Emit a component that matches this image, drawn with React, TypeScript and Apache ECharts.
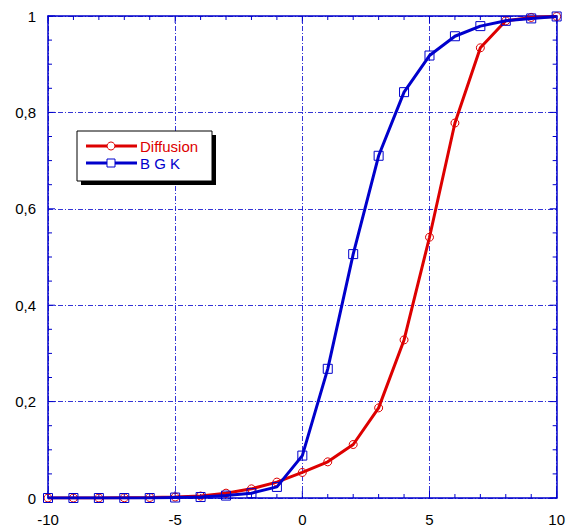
import React, { useEffect, useRef } from "react";
import * as echarts from "echarts";

const xValues = [-10, -9, -8, -7, -6, -5, -4, -3, -2, -1, 0, 1, 2, 3, 4, 5, 6, 7, 8, 9, 10];
const diffusion = [0, 0, 0, 0.0005, 0.001, 0.002, 0.004, 0.01, 0.019, 0.033, 0.053, 0.075, 0.111, 0.187, 0.328, 0.541, 0.778, 0.934, 0.99, 0.997, 0.999];
const bgk = [0, 0, 0, 0, 0, 0.001, 0.002, 0.005, 0.01, 0.023, 0.088, 0.268, 0.506, 0.71, 0.842, 0.918, 0.958, 0.979, 0.99, 0.995, 0.999];
const seriesNames = ["Diffusion", "BGK"];
const xTickValues = [-10, -9, -8, -7, -6, -5, -4, -3, -2, -1, 0, 1, 2, 3, 4, 5, 6, 7, 8, 9, 10];
const yTickValues = [0, 0.05, 0.1, 0.15, 0.2, 0.25, 0.3, 0.35, 0.4, 0.45, 0.5, 0.55, 0.6, 0.65, 0.7, 0.75, 0.8, 0.85, 0.9, 0.95, 1];

const RED = "#dd0000";
const BLUE = "#0000cc";

export default function App() {
  const ref = useRef<HTMLDivElement>(null);
  useEffect(() => {
    if (!ref.current) return;
    const chart = echarts.init(ref.current, undefined, { renderer: "svg" });
    const font = "'Liberation Sans', Arial, sans-serif";
    const axisLine = { show: true, onZero: false, lineStyle: { color: BLUE, width: 1.5 } };
    const grid = { show: true, lineStyle: { color: BLUE, type: [5, 2, 1, 2], width: 0.8 } };
    const tickStyle = { stroke: BLUE, lineWidth: 1 };
    chart.setOption({
      animation: false,
      grid: { left: 48, right: 11, top: 16, bottom: 33, containLabel: false },
      xAxis: [
        {
          type: "value", min: -10, max: 10, interval: 5, position: "bottom",
          axisLine, axisTick: { show: false },
          axisLabel: { color: "#000", fontSize: 15, fontFamily: font, margin: 14 },
          splitLine: grid,
        },
        {
          type: "value", min: -10, max: 10, interval: 5, position: "top",
          axisLine, axisTick: { show: false },
          axisLabel: { show: false },
          splitLine: { show: false },
        },
      ],
      yAxis: [
        {
          type: "value", min: 0, max: 1, interval: 0.2, position: "left",
          axisLine, axisTick: { show: false },
          axisLabel: {
            color: "#000", fontSize: 15, fontFamily: font, margin: 12,
            formatter: (v: number) => String(Math.round(v * 10) / 10).replace(".", ","),
          },
          splitLine: grid,
        },
        {
          type: "value", min: 0, max: 1, interval: 0.2, position: "right",
          axisLine, axisTick: { show: false },
          axisLabel: { show: false },
          splitLine: { show: false },
        },
      ],
      series: [
        {
          type: "custom", silent: true, z: 2,
          data: xTickValues.map((v) => [v, 0]),
          renderItem: (_p: any, api: any) => {
            const v = api.value(0);
            const b = api.coord([v, 0]);
            const t = api.coord([v, 1]);
            const len = Math.abs(v % 5) < 1e-9 ? 7 : 4;
            return {
              type: "group",
              children: [
                { type: "line", shape: { x1: b[0], y1: b[1], x2: b[0], y2: b[1] - len }, style: tickStyle },
                { type: "line", shape: { x1: t[0], y1: t[1], x2: t[0], y2: t[1] + len }, style: tickStyle },
              ],
            };
          },
        },
        {
          type: "custom", silent: true, z: 2,
          data: yTickValues.map((v) => [-10, v]),
          renderItem: (_p: any, api: any) => {
            const v = api.value(1);
            const l = api.coord([-10, v]);
            const r = api.coord([10, v]);
            const len = Math.abs(Math.round(v * 100) % 20) < 1e-9 ? 7 : 4;
            return {
              type: "group",
              children: [
                { type: "line", shape: { x1: l[0], y1: l[1], x2: l[0] + len, y2: l[1] }, style: tickStyle },
                { type: "line", shape: { x1: r[0], y1: r[1], x2: r[0] - len, y2: r[1] }, style: tickStyle },
              ],
            };
          },
        },
        {
          name: seriesNames[0], type: "line",
          data: xValues.map((x, i) => [x, diffusion[i]]),
          symbol: "circle", symbolSize: 8, showSymbol: true,
          lineStyle: { color: RED, width: 3 },
          itemStyle: { color: "rgba(0,0,0,0)", borderColor: RED, borderWidth: 1 },
          z: 3,
        },
        {
          name: seriesNames[1], type: "line",
          data: xValues.map((x, i) => [x, bgk[i]]),
          symbol: "rect", symbolSize: 9, showSymbol: true,
          lineStyle: { color: BLUE, width: 3 },
          itemStyle: { color: "rgba(0,0,0,0)", borderColor: BLUE, borderWidth: 1 },
          z: 4,
        },
      ],
      graphic: [
        { type: "rect", shape: { x: 81, y: 135, width: 135, height: 50 }, style: { fill: "#000" }, z: 10 },
        { type: "rect", shape: { x: 77, y: 131, width: 135, height: 50 }, style: { fill: "#fff", stroke: "#000", lineWidth: 1 }, z: 11 },
        { type: "line", shape: { x1: 86, y1: 146, x2: 137, y2: 146 }, style: { stroke: RED, lineWidth: 3 }, z: 12 },
        { type: "circle", shape: { cx: 111, cy: 146, r: 4 }, style: { fill: "#fff", stroke: RED, lineWidth: 1 }, z: 13 },
        { type: "line", shape: { x1: 86, y1: 163, x2: 137, y2: 163 }, style: { stroke: BLUE, lineWidth: 3 }, z: 12 },
        { type: "rect", shape: { x: 107, y: 159, width: 8, height: 8 }, style: { fill: "#fff", stroke: BLUE, lineWidth: 1 }, z: 13 },
        { type: "text", x: 140, y: 146, style: { text: seriesNames[0], fill: RED, font: `15px ${font}`, verticalAlign: "middle" }, z: 13 },
        { type: "text", x: 140, y: 163, style: { text: "B G K", fill: BLUE, font: `15px ${font}`, verticalAlign: "middle" }, z: 13 },
      ],
    });
    return () => chart.dispose();
  }, []);
  return <div ref={ref} style={{ width: 568, height: 531, position: "absolute", left: 0, top: 0 }} />;
}
